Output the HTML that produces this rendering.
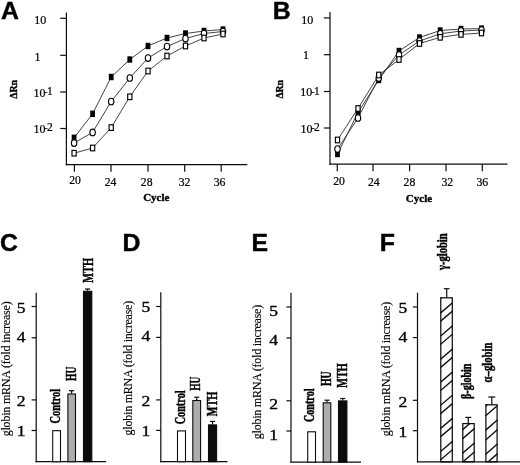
<!DOCTYPE html>
<html><head><meta charset="utf-8"><title>Figure</title>
<style>
html,body{margin:0;padding:0;background:#fff;}
body{width:520px;height:465px;overflow:hidden;font-family:"Liberation Serif",serif;}
svg{display:block;will-change:transform;filter:grayscale(1);}
</style></head><body>
<svg width="520" height="465" viewBox="0 0 520 465">
<rect width="520" height="465" fill="#fff"/>
<text x="0.9" y="18.8" font-family="Liberation Sans" font-size="24.8" font-weight="bold" text-anchor="start" fill="#000" stroke="#000" stroke-width="0.45">A</text>
<text x="272.8" y="18.8" font-family="Liberation Sans" font-size="24.8" font-weight="bold" text-anchor="start" fill="#000" stroke="#000" stroke-width="0.45">B</text>
<text x="0.1" y="250.9" font-family="Liberation Sans" font-size="24.8" font-weight="bold" text-anchor="start" fill="#000" stroke="#000" stroke-width="0.45">C</text>
<text x="122.6" y="250.8" font-family="Liberation Sans" font-size="24.8" font-weight="bold" text-anchor="start" fill="#000" stroke="#000" stroke-width="0.45">D</text>
<text x="251.6" y="250.8" font-family="Liberation Sans" font-size="24.8" font-weight="bold" text-anchor="start" fill="#000" stroke="#000" stroke-width="0.45">E</text>
<text x="379.7" y="250.8" font-family="Liberation Sans" font-size="24.8" font-weight="bold" text-anchor="start" fill="#000" stroke="#000" stroke-width="0.45">F</text>
<line x1="66.4" y1="12.6" x2="66.4" y2="165.2" stroke="#0d0d0d" stroke-width="1.2"/>
<line x1="65.80000000000001" y1="164.6" x2="247.3" y2="164.6" stroke="#0d0d0d" stroke-width="1.2"/>
<line x1="60.2" y1="18.3" x2="66.4" y2="18.3" stroke="#0d0d0d" stroke-width="1.2"/>
<line x1="60.2" y1="55.3" x2="66.4" y2="55.3" stroke="#0d0d0d" stroke-width="1.2"/>
<line x1="60.2" y1="92" x2="66.4" y2="92" stroke="#0d0d0d" stroke-width="1.2"/>
<line x1="60.2" y1="128.5" x2="66.4" y2="128.5" stroke="#0d0d0d" stroke-width="1.2"/>
<line x1="74.4" y1="164.6" x2="74.4" y2="171.79999999999998" stroke="#0d0d0d" stroke-width="1.2"/>
<line x1="111" y1="164.6" x2="111" y2="171.79999999999998" stroke="#0d0d0d" stroke-width="1.2"/>
<line x1="148" y1="164.6" x2="148" y2="171.79999999999998" stroke="#0d0d0d" stroke-width="1.2"/>
<line x1="184.7" y1="164.6" x2="184.7" y2="171.79999999999998" stroke="#0d0d0d" stroke-width="1.2"/>
<line x1="221.2" y1="164.6" x2="221.2" y2="171.79999999999998" stroke="#0d0d0d" stroke-width="1.2"/>
<text x="75.1" y="184.2" font-family="Liberation Serif" font-size="11.7" font-weight="normal" text-anchor="middle" fill="#000" stroke="#000" stroke-width="0.22">20</text>
<text x="110.5" y="185.8" font-family="Liberation Serif" font-size="11.7" font-weight="normal" text-anchor="middle" fill="#000" stroke="#000" stroke-width="0.22">24</text>
<text x="146.7" y="185.9" font-family="Liberation Serif" font-size="11.7" font-weight="normal" text-anchor="middle" fill="#000" stroke="#000" stroke-width="0.22">28</text>
<text x="184.5" y="185.9" font-family="Liberation Serif" font-size="11.7" font-weight="normal" text-anchor="middle" fill="#000" stroke="#000" stroke-width="0.22">32</text>
<text x="219.6" y="185.9" font-family="Liberation Serif" font-size="11.7" font-weight="normal" text-anchor="middle" fill="#000" stroke="#000" stroke-width="0.22">36</text>
<text x="156.3" y="201.2" font-family="Liberation Serif" font-size="11" font-weight="bold" text-anchor="middle" fill="#000" stroke="#000" stroke-width="0.35">Cycle</text>
<text x="40.3" y="24" font-family="Liberation Serif" font-size="12" font-weight="normal" text-anchor="middle" fill="#000" stroke="#000" stroke-width="0.22">10</text>
<text x="37.4" y="60.7" font-family="Liberation Serif" font-size="12" font-weight="normal" text-anchor="middle" fill="#000" stroke="#000" stroke-width="0.22">1</text>
<text x="33.4" y="96.8" font-family="Liberation Serif" font-size="12" font-weight="normal" text-anchor="start" fill="#000" stroke="#000" stroke-width="0.22">10</text>
<text x="44.599999999999994" y="94.9" font-family="Liberation Serif" font-size="9" font-weight="normal" text-anchor="start" fill="#000" stroke="#000" stroke-width="0.22">-</text>
<text x="47.0" y="95.2" font-family="Liberation Serif" font-size="11.5" font-weight="normal" text-anchor="start" fill="#000" stroke="#000" stroke-width="0.22">1</text>
<text x="33.4" y="133" font-family="Liberation Serif" font-size="12" font-weight="normal" text-anchor="start" fill="#000" stroke="#000" stroke-width="0.22">10</text>
<text x="44.599999999999994" y="130.7" font-family="Liberation Serif" font-size="9" font-weight="normal" text-anchor="start" fill="#000" stroke="#000" stroke-width="0.22">-</text>
<text x="47.0" y="131.0" font-family="Liberation Serif" font-size="11.5" font-weight="normal" text-anchor="start" fill="#000" stroke="#000" stroke-width="0.22">2</text>
<text x="17.1" y="98.8" font-family="Liberation Serif" font-size="10.5" font-weight="bold" text-anchor="start" fill="#000" stroke="#000" stroke-width="0.35" transform="rotate(-90 17.1 98.8)" textLength="18.9" lengthAdjust="spacingAndGlyphs">ΔRn</text>
<polyline points="74.1,137.8 92.6,113.8 111.2,77 129.8,59.5 148,46 167,38 185.5,33.5 204,31 223,29.5" fill="none" stroke="#222" stroke-width="0.85"/>
<polyline points="74.1,143 92.6,132.4 111.2,101.5 129.8,78 148,58 167,46.5 185.5,38.5 204,33.5 223,31.5" fill="none" stroke="#222" stroke-width="0.85"/>
<polyline points="74.1,153.2 92.6,148 111.2,127.6 129.8,96.8 148,71 167,56 185.5,46 204,38 223,34" fill="none" stroke="#222" stroke-width="0.85"/>
<rect x="71.69999999999999" y="134.60000000000002" width="4.8" height="6.4" fill="#000"/>
<rect x="90.19999999999999" y="110.6" width="4.8" height="6.4" fill="#000"/>
<rect x="108.8" y="73.8" width="4.8" height="6.4" fill="#000"/>
<rect x="127.4" y="56.3" width="4.8" height="6.4" fill="#000"/>
<rect x="145.6" y="42.8" width="4.8" height="6.4" fill="#000"/>
<rect x="164.6" y="34.8" width="4.8" height="6.4" fill="#000"/>
<rect x="183.1" y="30.3" width="4.8" height="6.4" fill="#000"/>
<rect x="201.6" y="27.8" width="4.8" height="6.4" fill="#000"/>
<rect x="220.6" y="26.3" width="4.8" height="6.4" fill="#000"/>
<ellipse cx="74.1" cy="143" rx="2.7" ry="3.3" fill="#fff" stroke="#000" stroke-width="1.15"/>
<ellipse cx="92.6" cy="132.4" rx="2.7" ry="3.3" fill="#fff" stroke="#000" stroke-width="1.15"/>
<ellipse cx="111.2" cy="101.5" rx="2.7" ry="3.3" fill="#fff" stroke="#000" stroke-width="1.15"/>
<ellipse cx="129.8" cy="78" rx="2.7" ry="3.3" fill="#fff" stroke="#000" stroke-width="1.15"/>
<ellipse cx="148" cy="58" rx="2.7" ry="3.3" fill="#fff" stroke="#000" stroke-width="1.15"/>
<ellipse cx="167" cy="46.5" rx="2.7" ry="3.3" fill="#fff" stroke="#000" stroke-width="1.15"/>
<ellipse cx="185.5" cy="38.5" rx="2.7" ry="3.3" fill="#fff" stroke="#000" stroke-width="1.15"/>
<ellipse cx="204" cy="33.5" rx="2.7" ry="3.3" fill="#fff" stroke="#000" stroke-width="1.15"/>
<ellipse cx="223" cy="31.5" rx="2.7" ry="3.3" fill="#fff" stroke="#000" stroke-width="1.15"/>
<rect x="72.0" y="150.39999999999998" width="4.2" height="5.6" fill="#fff" stroke="#000" stroke-width="1.15"/>
<rect x="90.5" y="145.2" width="4.2" height="5.6" fill="#fff" stroke="#000" stroke-width="1.15"/>
<rect x="109.10000000000001" y="124.8" width="4.2" height="5.6" fill="#fff" stroke="#000" stroke-width="1.15"/>
<rect x="127.70000000000002" y="94.0" width="4.2" height="5.6" fill="#fff" stroke="#000" stroke-width="1.15"/>
<rect x="145.9" y="68.2" width="4.2" height="5.6" fill="#fff" stroke="#000" stroke-width="1.15"/>
<rect x="164.9" y="53.2" width="4.2" height="5.6" fill="#fff" stroke="#000" stroke-width="1.15"/>
<rect x="183.4" y="43.2" width="4.2" height="5.6" fill="#fff" stroke="#000" stroke-width="1.15"/>
<rect x="201.9" y="35.2" width="4.2" height="5.6" fill="#fff" stroke="#000" stroke-width="1.15"/>
<rect x="220.9" y="31.2" width="4.2" height="5.6" fill="#fff" stroke="#000" stroke-width="1.15"/>
<line x1="330" y1="12.1" x2="330" y2="164.7" stroke="#0d0d0d" stroke-width="1.2"/>
<line x1="329.4" y1="164.1" x2="507.5" y2="164.1" stroke="#0d0d0d" stroke-width="1.2"/>
<line x1="323.8" y1="17.9" x2="330" y2="17.9" stroke="#0d0d0d" stroke-width="1.2"/>
<line x1="323.8" y1="54.7" x2="330" y2="54.7" stroke="#0d0d0d" stroke-width="1.2"/>
<line x1="323.8" y1="91.5" x2="330" y2="91.5" stroke="#0d0d0d" stroke-width="1.2"/>
<line x1="323.8" y1="128" x2="330" y2="128" stroke="#0d0d0d" stroke-width="1.2"/>
<line x1="337.3" y1="164.1" x2="337.3" y2="171.29999999999998" stroke="#0d0d0d" stroke-width="1.2"/>
<line x1="373" y1="164.1" x2="373" y2="171.29999999999998" stroke="#0d0d0d" stroke-width="1.2"/>
<line x1="409.6" y1="164.1" x2="409.6" y2="171.29999999999998" stroke="#0d0d0d" stroke-width="1.2"/>
<line x1="446" y1="164.1" x2="446" y2="171.29999999999998" stroke="#0d0d0d" stroke-width="1.2"/>
<line x1="482.3" y1="164.1" x2="482.3" y2="171.29999999999998" stroke="#0d0d0d" stroke-width="1.2"/>
<text x="339" y="185" font-family="Liberation Serif" font-size="11.7" font-weight="normal" text-anchor="middle" fill="#000" stroke="#000" stroke-width="0.22">20</text>
<text x="373.8" y="186.3" font-family="Liberation Serif" font-size="11.7" font-weight="normal" text-anchor="middle" fill="#000" stroke="#000" stroke-width="0.22">24</text>
<text x="409.4" y="186.3" font-family="Liberation Serif" font-size="11.7" font-weight="normal" text-anchor="middle" fill="#000" stroke="#000" stroke-width="0.22">28</text>
<text x="447.3" y="186.3" font-family="Liberation Serif" font-size="11.7" font-weight="normal" text-anchor="middle" fill="#000" stroke="#000" stroke-width="0.22">32</text>
<text x="482.3" y="186.3" font-family="Liberation Serif" font-size="11.7" font-weight="normal" text-anchor="middle" fill="#000" stroke="#000" stroke-width="0.22">36</text>
<text x="419" y="202" font-family="Liberation Serif" font-size="11" font-weight="bold" text-anchor="middle" fill="#000" stroke="#000" stroke-width="0.35">Cycle</text>
<text x="307.2" y="24.1" font-family="Liberation Serif" font-size="12" font-weight="normal" text-anchor="middle" fill="#000" stroke="#000" stroke-width="0.22">10</text>
<text x="306.1" y="58.5" font-family="Liberation Serif" font-size="12" font-weight="normal" text-anchor="middle" fill="#000" stroke="#000" stroke-width="0.22">1</text>
<text x="300.3" y="96.4" font-family="Liberation Serif" font-size="12" font-weight="normal" text-anchor="start" fill="#000" stroke="#000" stroke-width="0.22">10</text>
<text x="311.5" y="94.50000000000001" font-family="Liberation Serif" font-size="9" font-weight="normal" text-anchor="start" fill="#000" stroke="#000" stroke-width="0.22">-</text>
<text x="313.90000000000003" y="94.80000000000001" font-family="Liberation Serif" font-size="11.5" font-weight="normal" text-anchor="start" fill="#000" stroke="#000" stroke-width="0.22">1</text>
<text x="300.5" y="133.2" font-family="Liberation Serif" font-size="12" font-weight="normal" text-anchor="start" fill="#000" stroke="#000" stroke-width="0.22">10</text>
<text x="311.7" y="130.7" font-family="Liberation Serif" font-size="9" font-weight="normal" text-anchor="start" fill="#000" stroke="#000" stroke-width="0.22">-</text>
<text x="314.1" y="131.0" font-family="Liberation Serif" font-size="11.5" font-weight="normal" text-anchor="start" fill="#000" stroke="#000" stroke-width="0.22">2</text>
<text x="283.2" y="98.6" font-family="Liberation Serif" font-size="10.5" font-weight="bold" text-anchor="start" fill="#000" stroke="#000" stroke-width="0.35" transform="rotate(-90 283.2 98.6)" textLength="18.4" lengthAdjust="spacingAndGlyphs">ΔRn</text>
<polyline points="337.5,154 358,112.5 378.75,80 399,51 419.5,37.5 440.2,30.5 461,29 481.5,28.6" fill="none" stroke="#222" stroke-width="0.85"/>
<polyline points="337.5,149 358,118 378.75,78 399,55 419.5,41 440.2,33.8 461,31 481.5,30" fill="none" stroke="#222" stroke-width="0.85"/>
<polyline points="337.5,140 358,108.5 378.75,75 399,59.5 419.5,43.5 440.2,37.3 461,34.4 481.5,33" fill="none" stroke="#222" stroke-width="0.85"/>
<rect x="335.1" y="150.8" width="4.8" height="6.4" fill="#000"/>
<rect x="355.6" y="109.3" width="4.8" height="6.4" fill="#000"/>
<rect x="376.35" y="76.8" width="4.8" height="6.4" fill="#000"/>
<rect x="396.6" y="47.8" width="4.8" height="6.4" fill="#000"/>
<rect x="417.1" y="34.3" width="4.8" height="6.4" fill="#000"/>
<rect x="437.8" y="27.3" width="4.8" height="6.4" fill="#000"/>
<rect x="458.6" y="25.8" width="4.8" height="6.4" fill="#000"/>
<rect x="479.1" y="25.400000000000002" width="4.8" height="6.4" fill="#000"/>
<ellipse cx="337.5" cy="149" rx="2.7" ry="3.3" fill="#fff" stroke="#000" stroke-width="1.15"/>
<ellipse cx="358" cy="118" rx="2.7" ry="3.3" fill="#fff" stroke="#000" stroke-width="1.15"/>
<ellipse cx="378.75" cy="78" rx="2.7" ry="3.3" fill="#fff" stroke="#000" stroke-width="1.15"/>
<ellipse cx="399" cy="55" rx="2.7" ry="3.3" fill="#fff" stroke="#000" stroke-width="1.15"/>
<ellipse cx="419.5" cy="41" rx="2.7" ry="3.3" fill="#fff" stroke="#000" stroke-width="1.15"/>
<ellipse cx="440.2" cy="33.8" rx="2.7" ry="3.3" fill="#fff" stroke="#000" stroke-width="1.15"/>
<ellipse cx="461" cy="31" rx="2.7" ry="3.3" fill="#fff" stroke="#000" stroke-width="1.15"/>
<ellipse cx="481.5" cy="30" rx="2.7" ry="3.3" fill="#fff" stroke="#000" stroke-width="1.15"/>
<rect x="335.4" y="137.2" width="4.2" height="5.6" fill="#fff" stroke="#000" stroke-width="1.15"/>
<rect x="355.9" y="105.7" width="4.2" height="5.6" fill="#fff" stroke="#000" stroke-width="1.15"/>
<rect x="376.65" y="72.2" width="4.2" height="5.6" fill="#fff" stroke="#000" stroke-width="1.15"/>
<rect x="396.9" y="56.7" width="4.2" height="5.6" fill="#fff" stroke="#000" stroke-width="1.15"/>
<rect x="417.4" y="40.7" width="4.2" height="5.6" fill="#fff" stroke="#000" stroke-width="1.15"/>
<rect x="438.09999999999997" y="34.5" width="4.2" height="5.6" fill="#fff" stroke="#000" stroke-width="1.15"/>
<rect x="458.9" y="31.599999999999998" width="4.2" height="5.6" fill="#fff" stroke="#000" stroke-width="1.15"/>
<rect x="479.4" y="30.2" width="4.2" height="5.6" fill="#fff" stroke="#000" stroke-width="1.15"/>
<line x1="36.2" y1="292.7" x2="36.2" y2="462.3" stroke="#0d0d0d" stroke-width="1.2"/>
<line x1="35.6" y1="461.7" x2="106.2" y2="461.7" stroke="#0d0d0d" stroke-width="1.2"/>
<line x1="31.6" y1="306.5" x2="36.2" y2="306.5" stroke="#0d0d0d" stroke-width="1.2"/>
<text x="16.799999999999997" y="312.5" font-family="Liberation Serif" font-size="15.5" font-weight="normal" text-anchor="start" fill="#000" stroke="#000" stroke-width="0.35" textLength="8.8" lengthAdjust="spacingAndGlyphs">5</text>
<line x1="31.6" y1="337.8" x2="36.2" y2="337.8" stroke="#0d0d0d" stroke-width="1.2"/>
<text x="16.799999999999997" y="341.8" font-family="Liberation Serif" font-size="15.5" font-weight="normal" text-anchor="start" fill="#000" stroke="#000" stroke-width="0.35" textLength="8.8" lengthAdjust="spacingAndGlyphs">4</text>
<line x1="31.6" y1="399.9" x2="36.2" y2="399.9" stroke="#0d0d0d" stroke-width="1.2"/>
<text x="16.799999999999997" y="406.09999999999997" font-family="Liberation Serif" font-size="15.5" font-weight="normal" text-anchor="start" fill="#000" stroke="#000" stroke-width="0.35" textLength="8.8" lengthAdjust="spacingAndGlyphs">2</text>
<line x1="31.6" y1="430.5" x2="36.2" y2="430.5" stroke="#0d0d0d" stroke-width="1.2"/>
<text x="16.799999999999997" y="436.3" font-family="Liberation Serif" font-size="15.5" font-weight="normal" text-anchor="start" fill="#000" stroke="#000" stroke-width="0.35" textLength="8.8" lengthAdjust="spacingAndGlyphs">1</text>
<text x="10.1" y="436.3" font-family="Liberation Serif" font-size="12" font-weight="normal" text-anchor="start" fill="#000" stroke="#000" stroke-width="0.12" transform="rotate(-90 10.1 436.3)" textLength="135" lengthAdjust="spacing">globin mRNA (fold increase)</text>
<rect x="52.7" y="430.7" width="7.799999999999997" height="31.0" fill="#fff" stroke="#0d0d0d" stroke-width="1.1"/>
<rect x="67.9" y="394.0" width="7.599999999999994" height="67.69999999999999" fill="#adadad" stroke="#0d0d0d" stroke-width="1.1"/>
<line x1="71.6" y1="393.5" x2="71.6" y2="390.7" stroke="#0d0d0d" stroke-width="1.2"/>
<line x1="69.0" y1="390.7" x2="74.19999999999999" y2="390.7" stroke="#0d0d0d" stroke-width="1.2"/>
<rect x="83.5" y="291.3" width="8.299999999999997" height="170.39999999999998" fill="#0c0c0c" stroke="#0d0d0d" stroke-width="1.1"/>
<line x1="87.6" y1="290.8" x2="87.6" y2="289" stroke="#0d0d0d" stroke-width="1.2"/>
<line x1="85.0" y1="289" x2="90.19999999999999" y2="289" stroke="#0d0d0d" stroke-width="1.2"/>
<text x="59.8" y="423.5" font-family="Liberation Serif" font-size="14" font-weight="bold" text-anchor="start" fill="#000" stroke="#000" stroke-width="0.45" transform="rotate(-90 59.8 423.5)" textLength="34.7" lengthAdjust="spacingAndGlyphs">Control</text>
<text x="76.2" y="380.9" font-family="Liberation Serif" font-size="14" font-weight="bold" text-anchor="start" fill="#000" stroke="#000" stroke-width="0.45" transform="rotate(-90 76.2 380.9)" textLength="14.3" lengthAdjust="spacingAndGlyphs">HU</text>
<text x="93.5" y="282.8" font-family="Liberation Serif" font-size="14.5" font-weight="bold" text-anchor="start" fill="#000" stroke="#000" stroke-width="0.45" transform="rotate(-90 93.5 282.8)" textLength="24.8" lengthAdjust="spacingAndGlyphs">MTH</text>
<line x1="160.8" y1="292.3" x2="160.8" y2="462.3" stroke="#0d0d0d" stroke-width="1.2"/>
<line x1="160.20000000000002" y1="461.7" x2="227.5" y2="461.7" stroke="#0d0d0d" stroke-width="1.2"/>
<line x1="156.20000000000002" y1="306.5" x2="160.8" y2="306.5" stroke="#0d0d0d" stroke-width="1.2"/>
<text x="141.4" y="312.2" font-family="Liberation Serif" font-size="15.5" font-weight="normal" text-anchor="start" fill="#000" stroke="#000" stroke-width="0.35" textLength="8.8" lengthAdjust="spacingAndGlyphs">5</text>
<line x1="156.20000000000002" y1="337.4" x2="160.8" y2="337.4" stroke="#0d0d0d" stroke-width="1.2"/>
<text x="141.4" y="341.4" font-family="Liberation Serif" font-size="15.5" font-weight="normal" text-anchor="start" fill="#000" stroke="#000" stroke-width="0.35" textLength="8.8" lengthAdjust="spacingAndGlyphs">4</text>
<line x1="156.20000000000002" y1="399.9" x2="160.8" y2="399.9" stroke="#0d0d0d" stroke-width="1.2"/>
<text x="141.4" y="405.9" font-family="Liberation Serif" font-size="15.5" font-weight="normal" text-anchor="start" fill="#000" stroke="#000" stroke-width="0.35" textLength="8.8" lengthAdjust="spacingAndGlyphs">2</text>
<line x1="156.20000000000002" y1="430.4" x2="160.8" y2="430.4" stroke="#0d0d0d" stroke-width="1.2"/>
<text x="141.4" y="436.09999999999997" font-family="Liberation Serif" font-size="15.5" font-weight="normal" text-anchor="start" fill="#000" stroke="#000" stroke-width="0.35" textLength="8.8" lengthAdjust="spacingAndGlyphs">1</text>
<text x="132.4" y="435.4" font-family="Liberation Serif" font-size="12" font-weight="normal" text-anchor="start" fill="#000" stroke="#000" stroke-width="0.12" transform="rotate(-90 132.4 435.4)" textLength="134.6" lengthAdjust="spacing">globin mRNA (fold increase)</text>
<rect x="177.5" y="430.9" width="8" height="30.80000000000001" fill="#fff" stroke="#0d0d0d" stroke-width="1.1"/>
<rect x="192.8" y="400.5" width="7.799999999999983" height="61.19999999999999" fill="#adadad" stroke="#0d0d0d" stroke-width="1.1"/>
<line x1="196.7" y1="400" x2="196.7" y2="397.2" stroke="#0d0d0d" stroke-width="1.2"/>
<line x1="194.1" y1="397.2" x2="199.29999999999998" y2="397.2" stroke="#0d0d0d" stroke-width="1.2"/>
<rect x="208.5" y="424.9" width="8.099999999999994" height="36.80000000000001" fill="#0c0c0c" stroke="#0d0d0d" stroke-width="1.1"/>
<line x1="212.5" y1="424.4" x2="212.5" y2="421.4" stroke="#0d0d0d" stroke-width="1.2"/>
<line x1="209.9" y1="421.4" x2="215.1" y2="421.4" stroke="#0d0d0d" stroke-width="1.2"/>
<text x="185.4" y="424.3" font-family="Liberation Serif" font-size="14" font-weight="bold" text-anchor="start" fill="#000" stroke="#000" stroke-width="0.45" transform="rotate(-90 185.4 424.3)" textLength="33.9" lengthAdjust="spacingAndGlyphs">Control</text>
<text x="200.3" y="390.8" font-family="Liberation Serif" font-size="14" font-weight="bold" text-anchor="start" fill="#000" stroke="#000" stroke-width="0.45" transform="rotate(-90 200.3 390.8)" textLength="14.1" lengthAdjust="spacingAndGlyphs">HU</text>
<text x="216.7" y="416.2" font-family="Liberation Serif" font-size="14" font-weight="bold" text-anchor="start" fill="#000" stroke="#000" stroke-width="0.45" transform="rotate(-90 216.7 416.2)" textLength="24.6" lengthAdjust="spacingAndGlyphs">MTH</text>
<line x1="291" y1="292.7" x2="291" y2="462.70000000000005" stroke="#0d0d0d" stroke-width="1.2"/>
<line x1="290.4" y1="462.1" x2="361" y2="462.1" stroke="#0d0d0d" stroke-width="1.2"/>
<line x1="286.4" y1="307" x2="291" y2="307" stroke="#0d0d0d" stroke-width="1.2"/>
<text x="269.20000000000005" y="316" font-family="Liberation Serif" font-size="15.5" font-weight="normal" text-anchor="start" fill="#000" stroke="#000" stroke-width="0.35" textLength="8.8" lengthAdjust="spacingAndGlyphs">5</text>
<line x1="286.4" y1="338" x2="291" y2="338" stroke="#0d0d0d" stroke-width="1.2"/>
<text x="269.20000000000005" y="345.1" font-family="Liberation Serif" font-size="15.5" font-weight="normal" text-anchor="start" fill="#000" stroke="#000" stroke-width="0.35" textLength="8.8" lengthAdjust="spacingAndGlyphs">4</text>
<line x1="286.4" y1="400.8" x2="291" y2="400.8" stroke="#0d0d0d" stroke-width="1.2"/>
<text x="269.20000000000005" y="408.90000000000003" font-family="Liberation Serif" font-size="15.5" font-weight="normal" text-anchor="start" fill="#000" stroke="#000" stroke-width="0.35" textLength="8.8" lengthAdjust="spacingAndGlyphs">2</text>
<line x1="286.4" y1="431" x2="291" y2="431" stroke="#0d0d0d" stroke-width="1.2"/>
<text x="269.20000000000005" y="439.8" font-family="Liberation Serif" font-size="15.5" font-weight="normal" text-anchor="start" fill="#000" stroke="#000" stroke-width="0.35" textLength="8.8" lengthAdjust="spacingAndGlyphs">1</text>
<text x="261.4" y="439.2" font-family="Liberation Serif" font-size="12" font-weight="normal" text-anchor="start" fill="#000" stroke="#000" stroke-width="0.12" transform="rotate(-90 261.4 439.2)" textLength="134.4" lengthAdjust="spacing">globin mRNA (fold increase)</text>
<rect x="307.7" y="431.8" width="7.800000000000011" height="30.30000000000001" fill="#fff" stroke="#0d0d0d" stroke-width="1.1"/>
<rect x="323.2" y="402.8" width="7.600000000000023" height="59.30000000000001" fill="#adadad" stroke="#0d0d0d" stroke-width="1.1"/>
<line x1="327" y1="402.3" x2="327" y2="400.2" stroke="#0d0d0d" stroke-width="1.2"/>
<line x1="324.4" y1="400.2" x2="329.6" y2="400.2" stroke="#0d0d0d" stroke-width="1.2"/>
<rect x="338.5" y="400.9" width="8.399999999999977" height="61.200000000000045" fill="#0c0c0c" stroke="#0d0d0d" stroke-width="1.1"/>
<line x1="342.7" y1="400.4" x2="342.7" y2="398.5" stroke="#0d0d0d" stroke-width="1.2"/>
<line x1="340.09999999999997" y1="398.5" x2="345.3" y2="398.5" stroke="#0d0d0d" stroke-width="1.2"/>
<text x="314.4" y="422" font-family="Liberation Serif" font-size="14" font-weight="bold" text-anchor="start" fill="#000" stroke="#000" stroke-width="0.45" transform="rotate(-90 314.4 422)" textLength="33.5" lengthAdjust="spacingAndGlyphs">Control</text>
<text x="330.9" y="386" font-family="Liberation Serif" font-size="14" font-weight="bold" text-anchor="start" fill="#000" stroke="#000" stroke-width="0.45" transform="rotate(-90 330.9 386)" textLength="14.7" lengthAdjust="spacingAndGlyphs">HU</text>
<text x="346.7" y="387.7" font-family="Liberation Serif" font-size="14" font-weight="bold" text-anchor="start" fill="#000" stroke="#000" stroke-width="0.45" transform="rotate(-90 346.7 387.7)" textLength="24.4" lengthAdjust="spacingAndGlyphs">MTH</text>
<line x1="417.5" y1="292.7" x2="417.5" y2="462.40000000000003" stroke="#0d0d0d" stroke-width="1.2"/>
<line x1="416.9" y1="461.8" x2="520" y2="461.8" stroke="#0d0d0d" stroke-width="1.2"/>
<line x1="412.9" y1="307" x2="417.5" y2="307" stroke="#0d0d0d" stroke-width="1.2"/>
<text x="398.6" y="312.8" font-family="Liberation Serif" font-size="15.5" font-weight="normal" text-anchor="start" fill="#000" stroke="#000" stroke-width="0.35" textLength="8.8" lengthAdjust="spacingAndGlyphs">5</text>
<line x1="412.9" y1="337.6" x2="417.5" y2="337.6" stroke="#0d0d0d" stroke-width="1.2"/>
<text x="398.6" y="342.0" font-family="Liberation Serif" font-size="15.5" font-weight="normal" text-anchor="start" fill="#000" stroke="#000" stroke-width="0.35" textLength="8.8" lengthAdjust="spacingAndGlyphs">4</text>
<line x1="412.9" y1="400.3" x2="417.5" y2="400.3" stroke="#0d0d0d" stroke-width="1.2"/>
<text x="398.6" y="406.6" font-family="Liberation Serif" font-size="15.5" font-weight="normal" text-anchor="start" fill="#000" stroke="#000" stroke-width="0.35" textLength="8.8" lengthAdjust="spacingAndGlyphs">2</text>
<line x1="412.9" y1="430.7" x2="417.5" y2="430.7" stroke="#0d0d0d" stroke-width="1.2"/>
<text x="398.6" y="436.59999999999997" font-family="Liberation Serif" font-size="15.5" font-weight="normal" text-anchor="start" fill="#000" stroke="#000" stroke-width="0.35" textLength="8.8" lengthAdjust="spacingAndGlyphs">1</text>
<text x="389.8" y="436.3" font-family="Liberation Serif" font-size="12" font-weight="normal" text-anchor="start" fill="#000" stroke="#000" stroke-width="0.12" transform="rotate(-90 389.8 436.3)" textLength="134.5" lengthAdjust="spacing">globin mRNA (fold increase)</text>
<defs>
<clipPath id="cp0"><rect x="440.3" y="297.3" width="12.5" height="164.5"/></clipPath>
<clipPath id="cp1"><rect x="462.3" y="423.1" width="12.399999999999977" height="38.69999999999999"/></clipPath>
<clipPath id="cp2"><rect x="485.4" y="404.3" width="12.200000000000045" height="57.5"/></clipPath>
</defs>
<g clip-path="url(#cp0)">
<line x1="440.3" y1="298.4" x2="452.8" y2="287.7" stroke="#0a0a0a" stroke-width="1.35"/>
<line x1="440.3" y1="313.2" x2="452.8" y2="302.5" stroke="#0a0a0a" stroke-width="1.35"/>
<line x1="440.3" y1="321.5" x2="452.8" y2="310.8" stroke="#0a0a0a" stroke-width="1.35"/>
<line x1="440.3" y1="336.29999999999995" x2="452.8" y2="325.59999999999997" stroke="#0a0a0a" stroke-width="1.35"/>
<line x1="440.3" y1="344.59999999999997" x2="452.8" y2="333.9" stroke="#0a0a0a" stroke-width="1.35"/>
<line x1="440.3" y1="359.4" x2="452.8" y2="348.7" stroke="#0a0a0a" stroke-width="1.35"/>
<line x1="440.3" y1="367.7" x2="452.8" y2="357.0" stroke="#0a0a0a" stroke-width="1.35"/>
<line x1="440.3" y1="382.5" x2="452.8" y2="371.8" stroke="#0a0a0a" stroke-width="1.35"/>
<line x1="440.3" y1="390.8" x2="452.8" y2="380.1" stroke="#0a0a0a" stroke-width="1.35"/>
<line x1="440.3" y1="405.59999999999997" x2="452.8" y2="394.9" stroke="#0a0a0a" stroke-width="1.35"/>
<line x1="440.3" y1="413.9" x2="452.8" y2="403.2" stroke="#0a0a0a" stroke-width="1.35"/>
<line x1="440.3" y1="428.7" x2="452.8" y2="418.0" stroke="#0a0a0a" stroke-width="1.35"/>
<line x1="440.3" y1="437.0" x2="452.8" y2="426.3" stroke="#0a0a0a" stroke-width="1.35"/>
<line x1="440.3" y1="451.8" x2="452.8" y2="441.1" stroke="#0a0a0a" stroke-width="1.35"/>
<line x1="440.3" y1="460.1" x2="452.8" y2="449.40000000000003" stroke="#0a0a0a" stroke-width="1.35"/>
</g>
<rect x="440.8" y="297.8" width="11.5" height="164.0" fill="none" stroke="#0d0d0d" stroke-width="1.25"/>
<line x1="446.7" y1="297.4" x2="446.7" y2="288.7" stroke="#0d0d0d" stroke-width="1.2"/>
<line x1="443.9" y1="288.7" x2="449.5" y2="288.7" stroke="#0d0d0d" stroke-width="1.2"/>
<g clip-path="url(#cp1)">
<line x1="462.3" y1="430.0" x2="474.7" y2="419.3" stroke="#0a0a0a" stroke-width="1.35"/>
<line x1="462.3" y1="439.0" x2="474.7" y2="428.3" stroke="#0a0a0a" stroke-width="1.35"/>
<line x1="462.3" y1="453.4" x2="474.7" y2="442.7" stroke="#0a0a0a" stroke-width="1.35"/>
<line x1="462.3" y1="462.4" x2="474.7" y2="451.7" stroke="#0a0a0a" stroke-width="1.35"/>
</g>
<rect x="462.8" y="423.6" width="11.399999999999977" height="38.19999999999999" fill="none" stroke="#0d0d0d" stroke-width="1.25"/>
<line x1="468.3" y1="423.3" x2="468.3" y2="417.4" stroke="#0d0d0d" stroke-width="1.2"/>
<line x1="465.3" y1="417.4" x2="471.3" y2="417.4" stroke="#0d0d0d" stroke-width="1.2"/>
<g clip-path="url(#cp2)">
<line x1="485.4" y1="406.29999999999995" x2="497.6" y2="395.59999999999997" stroke="#0a0a0a" stroke-width="1.35"/>
<line x1="485.4" y1="416.09999999999997" x2="497.6" y2="405.4" stroke="#0a0a0a" stroke-width="1.35"/>
<line x1="485.4" y1="430.4" x2="497.6" y2="419.7" stroke="#0a0a0a" stroke-width="1.35"/>
<line x1="485.4" y1="440.2" x2="497.6" y2="429.5" stroke="#0a0a0a" stroke-width="1.35"/>
<line x1="485.4" y1="454.5" x2="497.6" y2="443.8" stroke="#0a0a0a" stroke-width="1.35"/>
<line x1="485.4" y1="464.3" x2="497.6" y2="453.6" stroke="#0a0a0a" stroke-width="1.35"/>
</g>
<rect x="485.9" y="404.8" width="11.200000000000045" height="57.0" fill="none" stroke="#0d0d0d" stroke-width="1.25"/>
<line x1="491.8" y1="404.4" x2="491.8" y2="397" stroke="#0d0d0d" stroke-width="1.2"/>
<line x1="488.3" y1="397" x2="495.3" y2="397" stroke="#0d0d0d" stroke-width="1.2"/>
<text x="447.3" y="270" font-family="Liberation Serif" font-size="14" font-weight="bold" text-anchor="start" fill="#000" stroke="#000" stroke-width="0.45" transform="rotate(-90 447.3 270)" textLength="36.6" lengthAdjust="spacingAndGlyphs">γ-globin</text>
<text x="470.5" y="399" font-family="Liberation Serif" font-size="14" font-weight="bold" text-anchor="start" fill="#000" stroke="#000" stroke-width="0.45" transform="rotate(-90 470.5 399)" textLength="35.4" lengthAdjust="spacingAndGlyphs">β-globin</text>
<text x="492" y="382.4" font-family="Liberation Serif" font-size="14" font-weight="bold" text-anchor="start" fill="#000" stroke="#000" stroke-width="0.45" transform="rotate(-90 492 382.4)" textLength="39.9" lengthAdjust="spacingAndGlyphs">α–globin</text>
</svg>
</body></html>
